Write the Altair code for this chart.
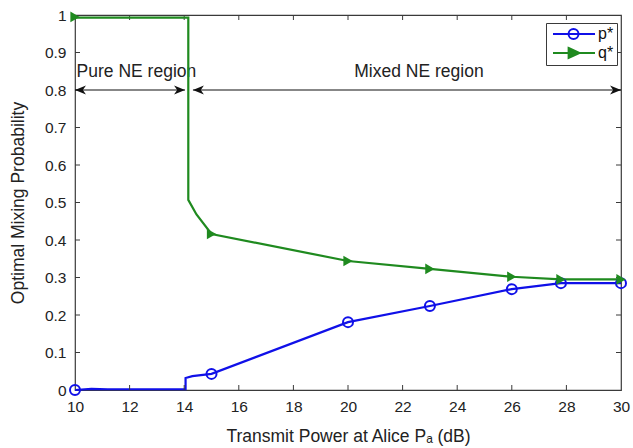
import altair as alt
import pandas as pd

# --- series values -------------------------------------------------------
# p* (Bob's optimal mixing probability): line vertices and marker points
p_line_x = [10, 10.6, 11.2, 14.05, 14.05, 14.3, 15, 20, 23, 26, 27.8, 30]
p_line_y = [0.0, 0.003, 0.002, 0.002, 0.032, 0.037, 0.043, 0.181, 0.224, 0.269, 0.285, 0.285]
p_mark_x = [10, 15, 20, 23, 26, 27.8, 30]
p_mark_y = [0.0, 0.043, 0.181, 0.224, 0.269, 0.285, 0.285]

# q* (Alice's optimal mixing probability)
q_line_x = [10, 14.15, 14.15, 14.45, 15, 20, 23, 26, 27.8, 30]
q_line_y = [0.993, 0.993, 0.507, 0.468, 0.416, 0.344, 0.323, 0.302, 0.295, 0.295]
q_mark_x = [10, 15, 20, 23, 26, 27.8, 30]
q_mark_y = [0.995, 0.416, 0.344, 0.323, 0.302, 0.295, 0.295]

series_names = ["p*", "q*"]
series_colors = ["#1010e8", "#1f8a1f"]

# --- region annotations --------------------------------------------------
region_labels = ["Pure NE region", "Mixed NE region"]
region_label_x = [12.25, 22.6]
region_label_y = [0.848, 0.848]
arrow_start = [10, 14.32]
arrow_end = [14.03, 30]
arrow_y = 0.8

# --- axis ticks ----------------------------------------------------------
x_ticks = [10, 12, 14, 16, 18, 20, 22, 24, 26, 28, 30]
y_ticks = [0, 0.1, 0.2, 0.3, 0.4, 0.5, 0.6, 0.7, 0.8, 0.9, 1]

W, H = 546, 375
X0, X1, Y0, Y1 = 10, 30, 0, 1
TICK_PX = 5
FONT = "Liberation Sans"
TXT = "#222222"
FRAME = "#3a3a3a"

p_line = pd.DataFrame({"x": p_line_x, "y": p_line_y, "i": range(len(p_line_x))})
q_line = pd.DataFrame({"x": q_line_x, "y": q_line_y, "i": range(len(q_line_x))})
p_marks = pd.DataFrame({"x": p_mark_x, "y": p_mark_y})
q_marks = pd.DataFrame({"x": q_mark_x, "y": q_mark_y})

xs = alt.Scale(domain=[X0, X1], nice=False, zero=False)
ys = alt.Scale(domain=[Y0, Y1], nice=False, zero=False)

axis_common = dict(
    grid=False, domain=False, ticks=False, tickSize=0, labelFlush=False,
    labelOverlap=False, labelFontSize=15.5, titleFontSize=17.5,
    titleFontWeight="normal", labelColor=TXT, titleColor=TXT,
    labelFont=FONT, titleFont=FONT,
)
x_axis = alt.Axis(
    values=x_ticks, title="Transmit Power at Alice P\u2090 (dB)",
    labelPadding=9, titlePadding=13, **axis_common,
)
y_axis = alt.Axis(
    values=y_ticks, format=".1~f", title="Optimal Mixing Probability",
    labelPadding=9, titlePadding=17, **axis_common,
)


def xy():
    return dict(x=alt.X("x:Q", scale=xs, axis=x_axis), y=alt.Y("y:Q", scale=ys, axis=y_axis))


p_line_layer = alt.Chart(p_line).mark_line(strokeWidth=2.2, color=series_colors[0]).encode(
    order="i:Q", **xy()
)
q_line_layer = alt.Chart(q_line).mark_line(strokeWidth=2.2, color=series_colors[1]).encode(
    order="i:Q", **xy()
)

p_points = alt.Chart(p_marks).mark_point(
    shape="circle", filled=False, size=100, strokeWidth=2, color=series_colors[0], opacity=1
).encode(**xy())
q_points = alt.Chart(q_marks).mark_point(
    shape="triangle-right", filled=True, size=115, color=series_colors[1], opacity=1
).encode(**xy())

# legend glyphs: a short line with the series marker on it (unit = 7 px)
a, b, m, r = -0.57, 5.43, 2.36, 0.71
circle_glyph = (f"M{a},0H{b}M{m + r},0A{r},{r} 0 1 1 {m - r},0"
                f"A{r},{r} 0 1 1 {m + r},0")
tri_glyph = f"M{a},0H{b}M{m - 0.7},-0.71L{m + 0.85},0L{m - 0.7},0.71Z"

legend_df = pd.DataFrame({"s": series_names, "x": [20, 20], "y": [0.5, 0.5]})
legend = alt.Legend(
    title=None, orient="none", legendX=471, legendY=8,
    fillColor="white", strokeColor=FRAME, padding=3, rowPadding=1,
    symbolSize=196, symbolStrokeWidth=2, labelFontSize=16, labelFont=FONT,
    labelColor="#111111", labelOffset=33, symbolOpacity=1,
)
legend_layer = alt.Chart(legend_df).transform_filter("false").mark_point(
    size=196, strokeWidth=2, opacity=1
).encode(
    stroke=alt.Stroke("s:N", scale=alt.Scale(domain=series_names, range=series_colors), legend=legend),
    fill=alt.Fill("s:N", scale=alt.Scale(domain=series_names, range=["transparent", series_colors[1]]), legend=legend),
    shape=alt.Shape("s:N", scale=alt.Scale(domain=series_names, range=[circle_glyph, tri_glyph]), legend=legend),
    **xy(),
)

# double-headed arrows marking the two regions
arrows = pd.DataFrame({"x": arrow_start, "x2": arrow_end, "y": [arrow_y] * 2})
arrow_lines = alt.Chart(arrows).mark_rule(color="#111111", strokeWidth=1.1).encode(
    x2="x2:Q", **xy()
)
head_l = pd.DataFrame({"x": arrow_start, "y": [arrow_y] * 2})
head_r = pd.DataFrame({"x": arrow_end, "y": [arrow_y] * 2})
head_left = alt.Chart(head_l).mark_point(
    shape="M0,0L1,-0.42L0.72,0L1,0.42Z", size=480, filled=True, color="#111111", opacity=1
).encode(**xy())
head_right = alt.Chart(head_r).mark_point(
    shape="M0,0L-1,-0.42L-0.72,0L-1,0.42Z", size=480, filled=True, color="#111111", opacity=1
).encode(**xy())

labels = pd.DataFrame({"t": region_labels, "x": region_label_x, "y": region_label_y})
label_layer = alt.Chart(labels).mark_text(
    font=FONT, fontSize=17.5, color=TXT, align="center", baseline="middle"
).encode(text="t:N", **xy())

# inward tick marks on all four sides of the box
tlx = TICK_PX / W * (X1 - X0)
tly = TICK_PX / H * (Y1 - Y0)
bt = pd.DataFrame({"x": x_ticks[1:-1], "y": Y0, "x2": x_ticks[1:-1], "y2": Y0 + tly})
tt = pd.DataFrame({"x": x_ticks[1:-1], "y": Y1, "x2": x_ticks[1:-1], "y2": Y1 - tly})
lt = pd.DataFrame({"x": X0, "y": y_ticks[1:-1], "x2": X0 + tlx, "y2": y_ticks[1:-1]})
rt = pd.DataFrame({"x": X1, "y": y_ticks[1:-1], "x2": X1 - tlx, "y2": y_ticks[1:-1]})
tick_df = pd.concat([bt, tt, lt, rt], ignore_index=True)
tick_layer = alt.Chart(tick_df).mark_rule(color=FRAME, strokeWidth=1).encode(
    x2="x2:Q", y2="y2:Q", **xy()
)

chart = alt.layer(
    p_line_layer, tick_layer,
    arrow_lines, head_left, head_right, label_layer,
    q_line_layer, p_points, q_points, legend_layer,
).properties(
    width=W, height=H,
    autosize=alt.AutoSizeParams(type="none"),
    padding={"left": 75, "top": 15, "right": 12, "bottom": 58},
    background="white",
).configure_view(
    stroke=FRAME, strokeWidth=1.2
).configure_axis(
    labelOverlap=False
)

chart.save("out.html", embed_options={"renderer": "svg", "actions": False})
